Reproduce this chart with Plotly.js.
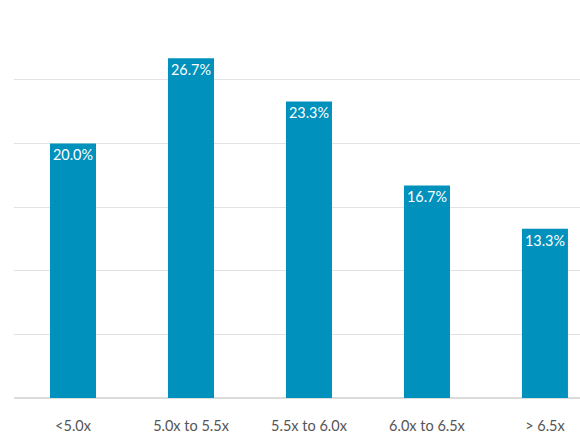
<!DOCTYPE html>
<html>
<head>
<meta charset="utf-8">
<script src="https://cdn.plot.ly/plotly-3.0.1.min.js"></script>
<style>
html,body{margin:0;padding:0;background:#fff;}
#chart{width:580px;height:435px;}
</style>
</head>
<body>
<div id="chart"></div>
<script>
var categories = ['<5.0x', '5.0x to 5.5x', '5.5x to 6.0x', '6.0x to 6.5x', '> 6.5x'];
var values = [20.0, 26.7, 23.3, 16.7, 13.3];
var labels = ['20.0%', '26.7%', '23.3%', '16.7%', '13.3%'];

var trace = {
  type: 'bar',
  x: categories,
  y: values,
  text: labels,
  textposition: 'inside',
  insidetextanchor: 'end',
  textangle: 0,
  insidetextfont: {family: 'Lato, sans-serif', size: 14.5, color: '#ffffff'},
  marker: {color: '#0091BD', line: {width: 0}},
  hoverinfo: 'none',
  cliponaxis: false
};

var layout = {
  width: 580,
  height: 435,
  margin: {l: 14, r: 0, t: 16, b: 37, pad: 0},
  paper_bgcolor: '#ffffff',
  plot_bgcolor: '#ffffff',
  bargap: 0.61,
  showlegend: false,
  xaxis: {
    type: 'category',
    range: [-0.5, 4.297],
    showgrid: false,
    showline: false,
    zeroline: false,
    ticks: 'outside',
    ticklen: 15,
    tickcolor: 'rgba(0,0,0,0)',
    tickfont: {family: 'Lato, sans-serif', size: 14.5, color: '#555555'},
    fixedrange: true
  },
  yaxis: {
    range: [0, 30.02],
    tickvals: [0, 5, 10, 15, 20, 25, 30],
    showticklabels: false,
    showgrid: true,
    gridcolor: '#e3e3e3',
    gridwidth: 1,
    zeroline: true,
    zerolinecolor: '#dcdcdc',
    zerolinewidth: 1.5,
    showline: false,
    fixedrange: true
  }
};

Plotly.newPlot('chart', [trace], layout, {staticPlot: true, displayModeBar: false});
</script>
</body>
</html>
